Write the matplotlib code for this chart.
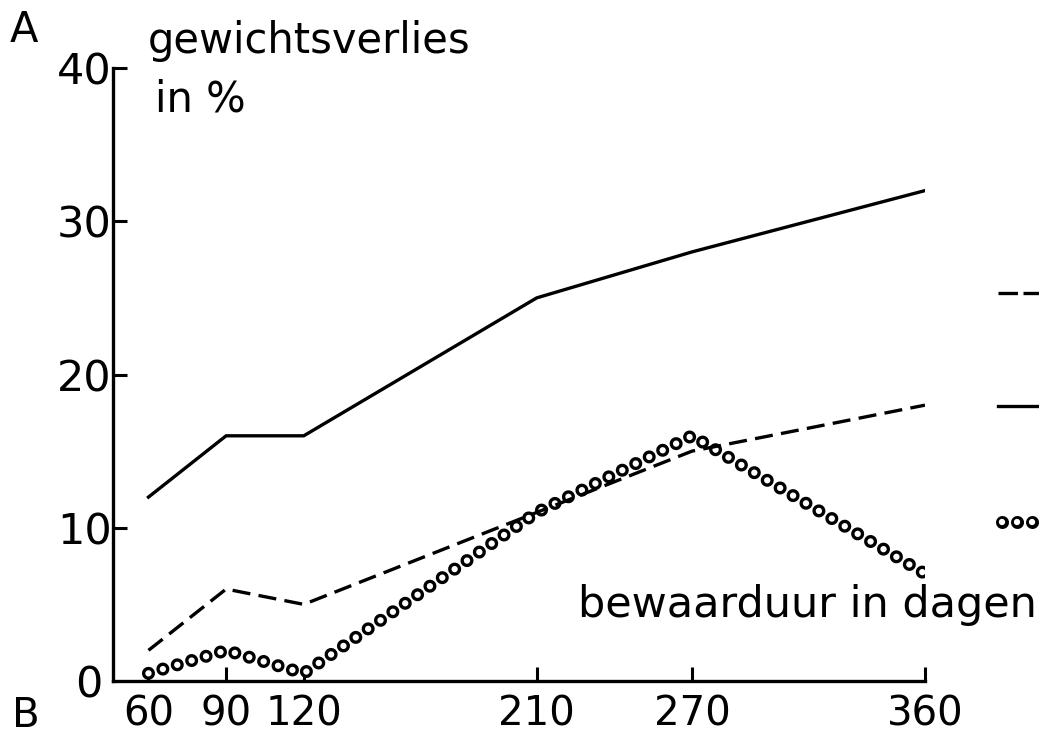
import matplotlib
matplotlib.use("Agg")
import matplotlib.pyplot as plt
from matplotlib.lines import Line2D

# bewaarduur (dagen) en gewichtsverlies (%)
days = [60, 90, 120, 210, 270, 360]
solid_loss = [12, 16, 16, 25, 28, 32]
dashed_loss = [2, 6, 5, 11, 15, 18]
circle_loss = [0.5, 2, 0.5, 11, 16, 7]

y_ticks = [10, 20, 30, 40]
y_labels = ["10", "20", "30", "40"]

W, H = 1039, 737
plt.rcParams["lines.scale_dashes"] = False
plt.rcParams["font.family"] = ["DejaVu Sans"]

RING = (0, (0.01, 10.8))
DASH = (0, (13, 6))


def ring_line(ax, x, y, transform=None, zorder=3):
    kw = {} if transform is None else {"transform": transform, "clip_on": False}
    ax.plot(x, y, color="black", lw=9.4, linestyle=RING,
            dash_capstyle="round", zorder=zorder, **kw)
    ax.plot(x, y, color="white", lw=4.6, linestyle=RING,
            dash_capstyle="round", zorder=zorder + 0.1, **kw)


fig = plt.figure(figsize=(W / 100, H / 100), dpi=100)
ax = fig.add_axes([113 / W, 56 / H, (925 - 113) / W, (681 - 68) / H])

ax.plot(days, solid_loss, color="black", lw=2.4, zorder=4,
        solid_joinstyle="miter")
ring_line(ax, days, circle_loss)
ax.plot(days, dashed_loss, color="black", lw=2.4, linestyle=DASH, zorder=4)

ax.set_xlim(46.3, 360)
ax.set_ylim(0, 40)

for side in ["top", "right"]:
    ax.spines[side].set_visible(False)
for side in ["left", "bottom"]:
    ax.spines[side].set_linewidth(2.4)

ax.set_xticks(days)
ax.set_xticklabels([str(d) for d in days], fontsize=29)
ax.set_yticks(y_ticks)
ax.set_yticklabels(y_labels, fontsize=31)
ax.tick_params(axis="both", direction="in", length=10, width=2.2)
ax.tick_params(axis="x", pad=10)
ax.tick_params(axis="y", pad=1)
fig.text(75 / W, 1 - 697 / H, "0", fontsize=31, va="baseline")

# labels
fig.text(10 / W, 1 - 42 / H, "A", fontsize=30, va="baseline")
fig.text(12 / W, 1 - 727 / H, "B", fontsize=29, va="baseline")
fig.text(148 / W, 1 - 53 / H, "gewichtsverlies", fontsize=30, va="baseline")
fig.text(155 / W, 1 - 112 / H, "in %", fontsize=30, va="baseline")
fig.text(578 / W, 1 - 617 / H, "bewaarduur in dagen", fontsize=31,
         va="baseline")

# afgesneden legenda rechts
fig.add_artist(Line2D([998 / W, 1.0], [1 - 293 / H, 1 - 293 / H],
                      color="black", lw=2.4, linestyle=(0, (14, 4)),
                      transform=fig.transFigure))
fig.add_artist(Line2D([998 / W, 1.0], [1 - 406 / H, 1 - 406 / H],
                      color="black", lw=2.4, transform=fig.transFigure))
ring_line(ax, [1002 / W, 1.0], [1 - 522 / H, 1 - 522 / H],
          transform=fig.transFigure)

fig.savefig("out.png", dpi=100)
